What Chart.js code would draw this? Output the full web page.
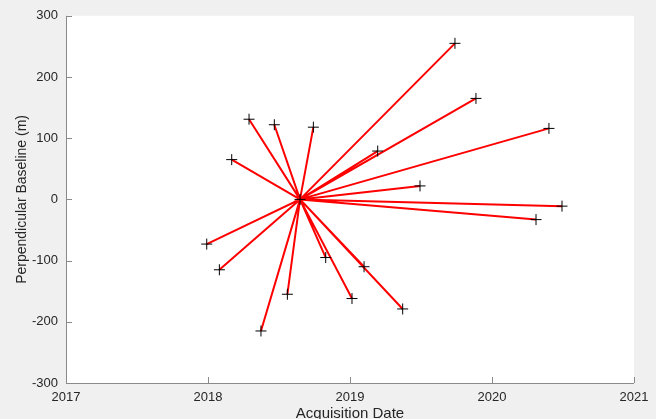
<!DOCTYPE html>
<html>
<head>
<meta charset="utf-8">
<script src="https://cdn.jsdelivr.net/npm/chart.js@4"></script>
<style>
  html, body { margin: 0; padding: 0; background: #f0f0f0; overflow: hidden; }
  #wrap { width: 656px; height: 419px; }
</style>
</head>
<body>
<div id="wrap"><canvas id="myChart" width="656" height="419"></canvas></div>
<script>
// Master acquisition (reference point)
const masterDate = 2018.648;
const masterBaseline = 0;

// Slave acquisitions (decimal year, perpendicular baseline in m)
const slaveDates = [2019.739, 2019.887, 2020.401, 2020.493, 2020.310, 2019.493, 2019.195,
    2018.742, 2018.467, 2018.289, 2018.167, 2017.991, 2018.080, 2018.373, 2018.559,
    2018.829, 2019.014, 2019.099, 2019.371];
const slaveBaselines = [255, 165, 116, -11, -33, 22, 79,
    118, 122, 131, 65, -73, -115, -215, -155,
    -95, -162, -110, -179];

const xTicks = [2017, 2018, 2019, 2020, 2021];
const yTicks = [-300, -200, -100, 0, 100, 200, 300];

// lines go master -> slave -> master -> ...
const linePoints = [];
slaveDates.forEach((d, i) => {
    linePoints.push({x: masterDate, y: masterBaseline});
    linePoints.push({x: d, y: slaveBaselines[i]});
});
const markerPoints = slaveDates.map((d, i) => ({x: d, y: slaveBaselines[i]}));
markerPoints.push({x: masterDate, y: masterBaseline});

// white plot area + inward tick marks, MATLAB style
const axesStyle = {
    id: 'axesStyle',
    beforeDraw(chart) {
        const a = chart.chartArea;
        const ctx = chart.ctx;
        ctx.save();
        ctx.fillStyle = '#ffffff';
        ctx.fillRect(a.left, a.top, a.right - a.left, a.bottom - a.top);
        ctx.restore();
    },
    afterDraw(chart) {
        const a = chart.chartArea;
        const ctx = chart.ctx;
        const xs = chart.scales.x, ys = chart.scales.y;
        ctx.save();
        ctx.strokeStyle = '#8a8a8a';
        ctx.lineWidth = 1;
        ctx.beginPath();
        ctx.moveTo(a.left + 0.5, a.top);
        ctx.lineTo(a.left + 0.5, a.bottom + 0.5);
        ctx.lineTo(a.right, a.bottom + 0.5);
        ctx.stroke();
        ctx.beginPath();
        xTicks.forEach(t => {
            const px = Math.round(xs.getPixelForValue(t)) + 0.5;
            ctx.moveTo(px, a.bottom);
            ctx.lineTo(px, a.bottom - 6);
        });
        yTicks.forEach(t => {
            const py = Math.round(ys.getPixelForValue(t)) + 0.5;
            ctx.moveTo(a.left, py);
            ctx.lineTo(a.left + 6, py);
        });
        ctx.stroke();
        ctx.restore();
    }
};

const ctx = document.getElementById('myChart').getContext('2d');
new Chart(ctx, {
    type: 'scatter',
    data: {
        datasets: [{
            label: 'baselines',
            data: linePoints,
            showLine: true,
            borderColor: '#ff0000',
            borderWidth: 2,
            pointRadius: 0,
            pointHoverRadius: 0,
            order: 2
        },
        {
            label: 'acquisitions',
            data: markerPoints,
            pointStyle: 'cross',
            pointRadius: 5.5,
            pointHoverRadius: 5.5,
            borderColor: '#000000',
            backgroundColor: '#000000',
            borderWidth: 1,
            order: 1
        }]
    },
    options: {
        responsive: false,
        animation: false,
        layout: { padding: { top: 14, right: 22, left: 0, bottom: 0 } },
        plugins: {
            legend: { display: false },
            tooltip: { enabled: false }
        },
        scales: {
            x: {
                type: 'linear',
                min: 2017,
                max: 2021,
                afterBuildTicks: s => { s.ticks = xTicks.map(v => ({value: v})); },
                afterFit: s => { s.height = 36; },
                grid: { display: false, drawTicks: false },
                border: { display: false },
                ticks: {
                    padding: 7,
                    color: '#262626',
                    font: { family: 'Liberation Sans', size: 13 },
                    callback: v => String(v)
                },
                title: {
                    display: true,
                    text: 'Acquisition Date',
                    color: '#262626',
                    font: { family: 'Liberation Sans', size: 15 },
                    padding: { top: 0, bottom: -4 }
                }
            },
            y: {
                min: -300,
                max: 300,
                afterBuildTicks: s => { s.ticks = yTicks.map(v => ({value: v})); },
                afterFit: s => { s.width = 66; },
                grid: { display: false, drawTicks: false },
                border: { display: false },
                ticks: {
                    padding: 8,
                    color: '#262626',
                    font: { family: 'Liberation Sans', size: 13 }
                },
                title: {
                    display: true,
                    text: 'Perpendicular Baseline (m)',
                    color: '#262626',
                    font: { family: 'Liberation Sans', size: 14 },
                    padding: { top: 14, bottom: 0 }
                }
            }
        }
    },
    plugins: [axesStyle]
});
</script>
</body>
</html>
